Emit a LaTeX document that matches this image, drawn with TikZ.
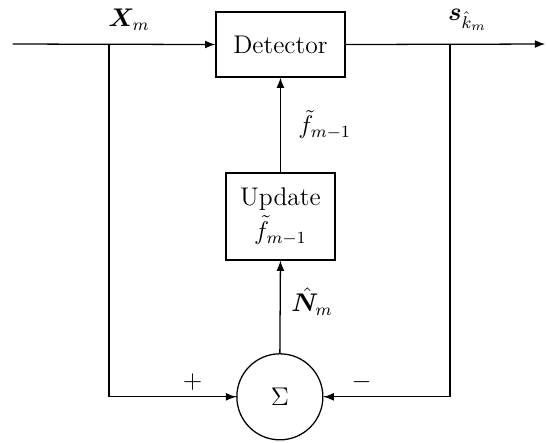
\documentclass[tikz,border=0pt]{standalone}
\usepackage{amsmath}
\usepackage{amssymb}
\usepackage{bm}
\usepackage{tikz}
\usetikzlibrary{positioning,arrows.meta,calc}

\begin{document}
\begin{tikzpicture}[
    font=\large,
    block/.style={rectangle, draw, line width=0.6pt, align=center, inner sep=2pt},
    sumnode/.style={circle, draw, line width=0.6pt, minimum size=1.42cm, inner sep=0pt},
    wire/.style={draw, line width=0.6pt},
    sig/.style={draw, line width=0.6pt, -{Latex[length=1.7mm,width=1.3mm]}},
    lbl/.style={inner sep=1pt}
]
\useasboundingbox (0,0) rectangle (9.03,7.31);

% Blocks
\node[block, minimum width=2.13cm, minimum height=1.07cm] (det) at (4.63, 6.575) {Detector};
\node[block, minimum width=1.80cm, minimum height=1.435cm] (upd) at (4.63, 3.737) {Update\\[2pt]$\tilde{f}_{m-1}$};
\node[sumnode] (sum) at (4.62, 0.759) {$\Sigma$};

% Input / output and branch points
\coordinate (in)  at (0.21, 6.583);
\coordinate (out) at (9.00, 6.583);
\coordinate (xb)  at (1.80, 6.583);
\coordinate (sb)  at (7.43, 6.583);

% Main path
\draw[sig] (in) -- (det.west);
\draw[sig] (det.east) -- (out);

% Feedback paths
\draw[wire] (xb) |- (sum.west);
\draw[sig] ($(sum.west)+(-0.3,0)$) -- (sum.west);
\draw[wire] (sb) |- (sum.east);
\draw[sig] ($(sum.east)+(0.3,0)$) -- (sum.east);
\draw[sig] (sum.north) -- (upd.south);
\draw[sig] (upd.north) -- (det.south);

% Labels
\node[lbl] (xlab) at (2.13, 6.98) {$\bm{X}_m$};
\node[lbl] (slab) at (7.72, 6.98) {$\bm{s}_{\hat{k}_m}$};
\node[lbl] (flab) at (5.36, 5.25) {$\tilde{f}_{m-1}$};
\node[lbl] (nlab) at (5.15, 2.33) {$\hat{\bm{N}}_m$};
\node[lbl] (plus) at (3.18, 1.00) {$+$};
\node[lbl] (minus) at (5.97, 1.00) {$-$};

\end{tikzpicture}
\end{document}
